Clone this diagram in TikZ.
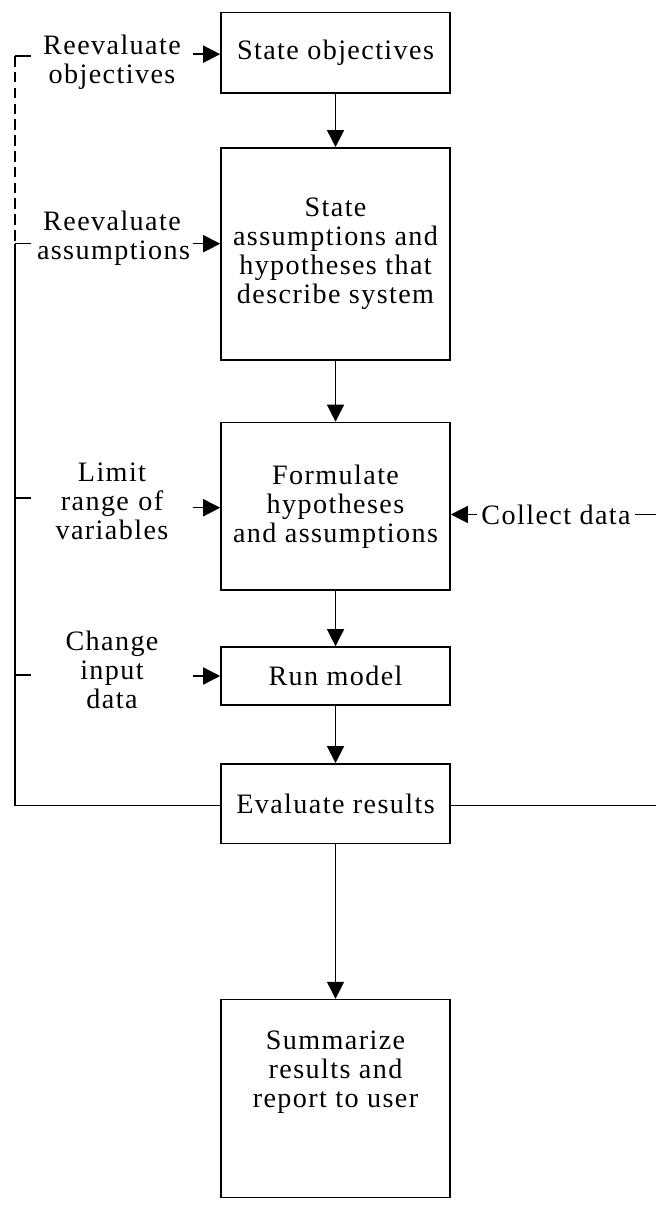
\documentclass[tikz,border=0pt]{standalone}
\usepackage{fontspec}
\setmainfont{Liberation Serif}[LetterSpace=5]
\usepackage{tikz}
\usetikzlibrary{arrows.meta, calc}
\tikzset{
	tri/.tip={Triangle[length=3.4mm, width=3.4mm]},
	loopdash/.style={dash pattern=on 6pt off 3pt},
	box/.style={draw, line width=0.9pt, minimum width=45.8mm, align=center, inner sep=2pt},
	note/.style={align=center, text width=30mm, inner sep=3pt},
	every node/.style={font=\fontsize{16pt}{16.5pt}\selectfont},
}

\begin{document}
\begin{tikzpicture}[x=0.2mm, y=-0.1934mm, line width=0.8pt]
	% 1 unit = 1 pixel of the scan
	\useasboundingbox (0,0) rectangle (656,1246);
	
	% Main chain of steps
	\node[box, minimum height=16.05mm] (obj)  at (335.5,54.5)  {State objectives};
	\node[box, minimum height=42.4mm]  (asm)  at (335.5,262.5) {State\\assumptions and\\hypotheses that\\describe system};
	\node[box, minimum height=33.5mm]  (form) at (335.5,523.5) {Formulate\\hypotheses\\and assumptions};
	\node[box, minimum height=11.6mm]  (run)  at (335.5,699)   {Run model};
	\node[box, minimum height=15.9mm]  (eval) at (335.5,831)   {Evaluate results};
	\node[box, minimum height=39.6mm]  (sum)  at (335.5,1136)  {Summarize\\results and\\report to user\\\mbox{}\\\mbox{}};
	
	\draw[-tri] (obj) -- (asm);
	\draw[-tri] (asm) -- (form);
	\draw[-tri] (form) -- (run);
	\draw[-tri] (run) -- (eval);
	\draw[-tri] (eval) -- (sum);
	
	% Revisions fed back on the left
	\node[note] (lobj) at (112,64)  {Reevaluate\\objectives};
	\node[note] (lasm) at (112,246) {Reevaluate\\assumptions};
	\node[note] (llim) at (112,518) {Limit\\range of\\variables};
	\node[note] (lchg) at (112,693) {Change\\input\\data};
	
	\coordinate (aobj) at (0,56);
	\coordinate (aasm) at (0,252);
	\coordinate (alim) at (0,525);
	\draw[-tri] (lobj.east |- aobj)     -- (aobj -| obj.west);
	\draw[-tri] (lasm.east |- aasm)     -- (aasm -| asm.west);
	\draw[-tri] (llim.east |- alim)     -- (alim -| form.west);
	\draw[-tri] (lchg.east |- run.west) -- (run.west);
	
	\coordinate (ltop) at (15,58);
	\coordinate (lmid) at (15,252);
	\coordinate (lbot) at (15,833);
	\draw[loopdash] (ltop) -- (lmid);
	\draw (lmid) -- (lbot) -- (lbot -| eval.west);
	\draw (ltop) -- (ltop -| lobj.west);
	\draw (lmid) -- (lmid -| lasm.west);
	\draw (15,515) -- (llim.west |- 0,515);
	\draw (15,698) -- (lchg.west |- 0,698);
	
	% Data coming in from the right
	\node[inner sep=2pt] (lcol) at (556,532) {Collect data};
	\coordinate (rtop) at (656,532);
	\coordinate (rbot) at (656,833);
	\draw[-tri] (lcol.west) -- (lcol.west -| form.east);
	\draw (lcol.east) -- (rtop);
	\draw (rbot -| eval.east) -- (rbot);
\end{tikzpicture}
\end{document}
